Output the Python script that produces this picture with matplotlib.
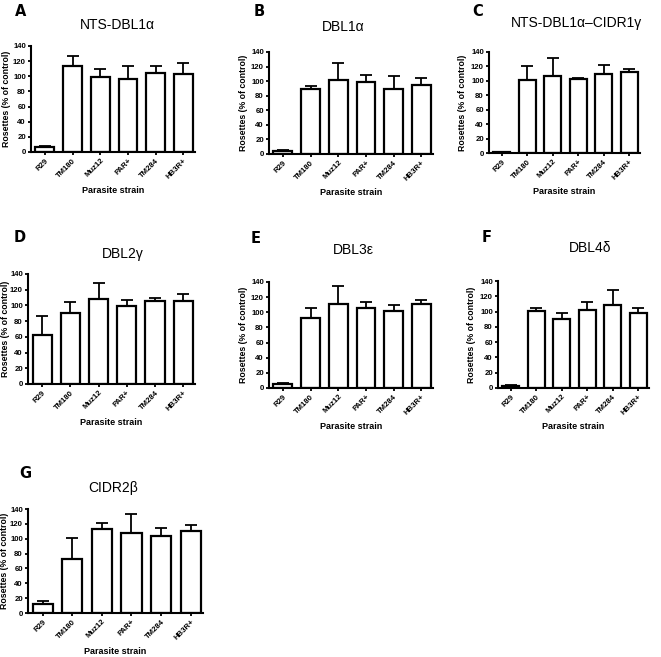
import numpy as np
import matplotlib
matplotlib.use("Agg")
import matplotlib.pyplot as plt

plt.rcParams['font.family'] = ['Liberation Sans', 'DejaVu Sans']

strains = ['R29', 'TM180', 'Muz12', 'PAR+', 'TM284', 'HB3R+']

# mean and upper error end, per panel
a_mean = [6, 113, 99, 96, 105, 103]
a_top = [8, 127, 109, 113, 113, 118]
b_mean = [4, 89, 102, 99.5, 89, 95]
b_top = [6, 94, 125, 109, 107, 104]
c_mean = [1, 101, 107, 102, 110, 112]
c_top = [2, 121, 132, 104, 122, 116]
d_mean = [63, 91, 108, 99, 106, 106]
d_top = [86, 104, 129, 107, 110, 115]
e_mean = [5, 92.5, 111, 106, 102, 111]
e_top = [6, 106, 135, 113, 110, 116]
f_mean = [3, 101, 90, 102, 108, 97.5]
f_top = [3.5, 105, 97.5, 113, 128, 104.5]
g_mean = [12.5, 73, 113, 108, 104, 111]
g_top = [16.6, 101, 121, 133, 114, 119]

W, H = 661, 657
fig = plt.figure(figsize=(W / 100, H / 100), dpi=100)

# letter, title, means, tops, (left, right, top, bottom) px, title pos, letter pos, ylabel offset px
panels = [
    ('A', 'NTS-DBL1α', a_mean, a_top, (31, 195, 46, 152), (117, 25), (21, 12), 20),
    ('B', 'DBL1α', b_mean, b_top, (269, 433, 52, 154), (343, 27), (259, 12), 21),
    ('C', 'NTS-DBL1α–CIDR1γ', c_mean, c_top, (489, 640, 52, 153), (577, 23), (478, 12), 22),
    ('D', 'DBL2γ', d_mean, d_top, (28, 195, 274, 384), (123, 254), (20, 238), 18),
    ('E', 'DBL3ε', e_mean, e_top, (269, 433, 282, 388), (353, 250), (256, 239), 21),
    ('F', 'DBL4δ', f_mean, f_top, (498, 649, 281, 388), (590, 248), (487, 237), 22),
    ('G', 'CIDR2β', g_mean, g_top, (28, 203, 509, 613), (113, 488), (25, 474), 19),
]

x = np.arange(len(strains))
for letter, title, mean, top, (l, r, t, b), (tx, ty), (lx, ly), yoff in panels:
    ax = fig.add_axes([l / W, 1 - b / H, (r - l) / W, (b - t) / H])
    mean = np.array(mean)
    err = np.array(top) - mean
    ax.errorbar(x, mean, yerr=[np.zeros_like(err), err], fmt='none',
                ecolor='black', elinewidth=1.3, capsize=4.5, capthick=1.3, zorder=1)
    ax.bar(x, mean, width=0.68, color='white', edgecolor='black', linewidth=1.6, zorder=2)
    ax.set_xlim(-0.5, 5.42)
    ax.set_ylim(0, 140)
    ax.set_yticks(range(0, 141, 20))
    ax.set_xticks(x)
    ax.set_xticklabels(strains, rotation=45, ha='right', rotation_mode='anchor',
                       fontsize=5.6, fontweight='bold')
    for lab in ax.get_yticklabels():
        lab.set_fontsize(5.6)
        lab.set_fontweight('bold')
    for s in ['top', 'right']:
        ax.spines[s].set_visible(False)
    for s in ['left', 'bottom']:
        ax.spines[s].set_linewidth(1.5)
    ax.tick_params(direction='out', length=2.5, width=1.3, pad=1.2)
    ax.set_xlabel('Parasite strain', fontsize=6.5, fontweight='bold', labelpad=4)
    ax.set_ylabel('Rosettes (% of control)', fontsize=6.3, fontweight='bold')
    ax.yaxis.set_label_coords(-yoff / (r - l), 0.5)
    fig.text(tx / W, 1 - ty / H, title, fontsize=10, ha='center', va='center')
    fig.text(lx / W, 1 - ly / H, letter, fontsize=10.5, fontweight='heavy',
             family='DejaVu Sans', ha='center', va='center')

fig.savefig('out.png', dpi=100)
